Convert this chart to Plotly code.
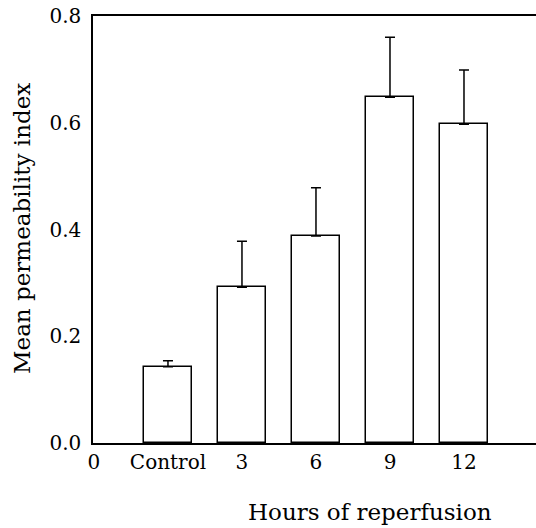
import plotly.graph_objects as go

tick_labels = ["0", "Control", "3", "6", "9", "12"]
bar_labels = ["Control", "3", "6", "9", "12"]
means = [0.143, 0.292, 0.388, 0.648, 0.597]
sems = [0.011, 0.086, 0.090, 0.112, 0.102]
y_ticks = [0, 0.2, 0.4, 0.6, 0.8]
y_tick_text = ["0.0", "0.2", "0.4", "0.6", "0.8"]

pos = {lab: i for i, lab in enumerate(tick_labels)}
xs = [pos[b] for b in bar_labels]

FONT = "DejaVu Serif"
L, T, R, B = 93, 16, 536, 443
W, H = 536, 528
pw, ph = R - L, B - T

fig = go.Figure()
fig.add_trace(go.Bar(
    x=xs, y=means, width=0.66,
    marker=dict(color="white", line=dict(color="black", width=1.5)),
    error_y=dict(type="data", symmetric=False, array=sems,
                 arrayminus=[0] * len(sems), color="black",
                 thickness=1.5, width=5),
    showlegend=False,
))

fig.update_layout(
    width=W, height=H,
    margin=dict(l=L, r=W - R, t=T, b=H - B),
    paper_bgcolor="white", plot_bgcolor="white",
    font=dict(family=FONT, size=20, color="black"),
    bargap=0,
    xaxis=dict(
        range=[-0.013, 5.973],
        tickmode="array",
        tickvals=list(range(len(tick_labels))),
        ticktext=tick_labels,
        showgrid=False, zeroline=False,
        showline=True, linecolor="black", linewidth=1.5, mirror=True,
        ticks="", ticklen=0,
        tickfont=dict(family=FONT, size=20),
    ),
    yaxis=dict(
        range=[0, 0.8],
        tickvals=y_ticks,
        ticktext=y_tick_text,
        showgrid=False, zeroline=False,
        showline=True, linecolor="black", linewidth=1.5,
        ticks="outside", ticklen=6, tickcolor="white",
        tickfont=dict(family=FONT, size=20),
    ),
    annotations=[
        dict(text="Hours of reperfusion", xref="paper", yref="paper",
             x=(370 - L) / pw, y=-(512 - B) / ph,
             xanchor="center", yanchor="middle", showarrow=False,
             font=dict(family=FONT, size=23)),
        dict(text="Mean permeability index", xref="paper", yref="paper",
             x=(22 - L) / pw, y=(B - 229) / ph, textangle=-90,
             xanchor="center", yanchor="middle", showarrow=False,
             font=dict(family=FONT, size=23)),
    ],
)

fig.write_html("out.html")
